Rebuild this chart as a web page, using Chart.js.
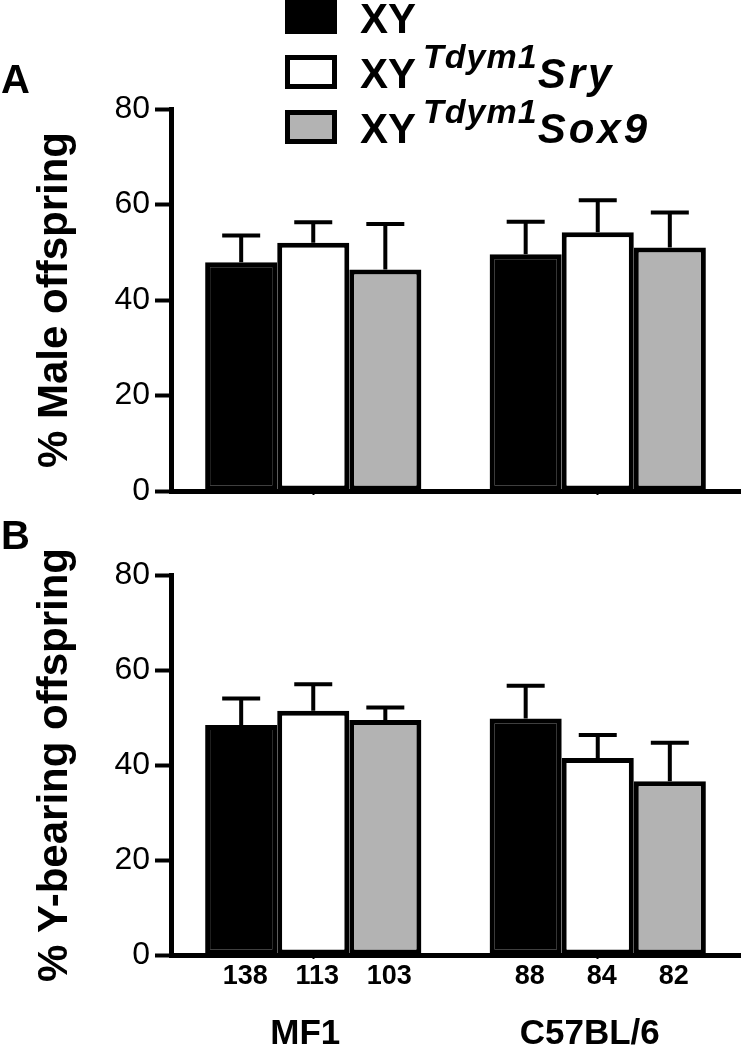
<!DOCTYPE html>
<html>
<head>
<meta charset="utf-8">
<script src="https://cdn.jsdelivr.net/npm/chart.js@4.4.1/dist/chart.umd.min.js"></script>
<style>
body { margin: 0; background: #fff; width: 741px; height: 1049px; position: relative; overflow: hidden; font-family: "Liberation Sans", Arial, sans-serif; color: #000; }
canvas { position: absolute; left: 0; }
#cA { top: 0; }
#cB { top: 520px; }
.panel { position: absolute; left: 1px; font-weight: bold; font-size: 40px; line-height: 40px; }
.sw { position: absolute; left: 285px; width: 52px; height: 34px; box-sizing: border-box; border: 5px solid #000; }
.lab { position: absolute; left: 360px; font-weight: bold; font-size: 42px; line-height: 42px; white-space: nowrap; }
.lab .sup { font-style: italic; font-size: 34px; position: relative; top: -20px; margin-left: 7px; letter-spacing: 1px; }
.lab .it { font-style: italic; letter-spacing: 3px; }
</style>
</head>
<body>
<canvas id="cA" width="741" height="520"></canvas>
<canvas id="cB" width="741" height="529"></canvas>
<div id="legend"></div>
<div class="panel" style="top:59px">A</div>
<div class="panel" style="top:515px">B</div>
<script>
// strains on the x axis
var groups = ['MF1', 'C57BL/6'];

// legend names: base, superscript, italic tail
var seriesBase = ['XY', 'XY', 'XY'];
var seriesSup = ['', 'Tdym1', 'Tdym1'];
var seriesTail = ['', 'Sry', 'Sox9'];
var seriesFill = ['#000000', '#ffffff', '#b3b3b3'];

// A: % male offspring (mean, + SEM)
var maleXY = [47.9, 49.6];
var maleSry = [52.0, 54.2];
var maleSox9 = [46.4, 51.0];
var maleErrXY = [5.6, 6.8];
var maleErrSry = [4.3, 6.7];
var maleErrSox9 = [9.5, 7.3];

// B: % Y-bearing offspring (mean, + SEM)
var ybXY = [48.4, 49.8];
var ybSry = [51.4, 41.5];
var ybSox9 = [49.5, 36.6];
var ybErrXY = [5.6, 6.9];
var ybErrSry = [5.6, 4.8];
var ybErrSox9 = [2.6, 8.1];

// number of offspring under each bar
var nXY = [138, 88];
var nSry = [113, 84];
var nSox9 = [103, 82];

var yMin = 0, yMax = 80, yStep = 20;

var FONT = '"Liberation Sans", Arial, sans-serif';

// legend
var legend = document.getElementById('legend');
for (var i = 0; i < seriesBase.length; i++) {
	var rowTop = i * 55;
	var sw = document.createElement('div');
	sw.className = 'sw';
	sw.style.top = rowTop + 'px';
	sw.style.background = seriesFill[i];
	legend.appendChild(sw);
	var lab = document.createElement('div');
	lab.className = 'lab';
	lab.style.top = (rowTop - 2) + 'px';
	lab.appendChild(document.createTextNode(seriesBase[i]));
	if (seriesSup[i]) {
		var s = document.createElement('span');
		s.className = 'sup';
		s.textContent = seriesSup[i];
		lab.appendChild(s);
	}
	if (seriesTail[i]) {
		var t = document.createElement('span');
		t.className = 'it';
		t.textContent = seriesTail[i];
		lab.appendChild(t);
	}
	legend.appendChild(lab);
}

var errorBars = {
	id: 'errorBars',
	afterDatasetsDraw: function (chart) {
		var ctx = chart.ctx, y = chart.scales.y;
		ctx.save();
		ctx.strokeStyle = '#000';
		ctx.lineWidth = 4;
		chart.data.datasets.forEach(function (ds, i) {
			chart.getDatasetMeta(i).data.forEach(function (bar, j) {
				var yt = y.getPixelForValue(ds.data[j] + ds.errors[j]);
				ctx.beginPath();
				ctx.moveTo(bar.x, bar.y);
				ctx.lineTo(bar.x, yt);
				ctx.moveTo(bar.x - 19, yt);
				ctx.lineTo(bar.x + 19, yt);
				ctx.stroke();
			});
		});
		ctx.restore();
	}
};

var countLabels = {
	id: 'countLabels',
	afterDraw: function (chart) {
		var counts = chart.options.plugins.countLabels.counts;
		if (!counts) return;
		var ctx = chart.ctx;
		ctx.save();
		ctx.fillStyle = '#000';
		ctx.font = 'bold 27px ' + FONT;
		ctx.textAlign = 'center';
		ctx.textBaseline = 'middle';
		chart.data.datasets.forEach(function (ds, i) {
			chart.getDatasetMeta(i).data.forEach(function (bar, j) {
				ctx.fillText(String(counts[i][j]), bar.x + 4, chart.chartArea.bottom + 22);
			});
		});
		ctx.restore();
	}
};

function makePanel(id, title, values, errors, counts, padTop, xHeight) {
	var datasets = [];
	for (var i = 0; i < values.length; i++) {
		datasets.push({
			label: seriesBase[i] + seriesSup[i] + seriesTail[i],
			data: values[i],
			errors: errors[i],
			backgroundColor: seriesFill[i],
			borderColor: '#000',
			borderWidth: 5,
			borderSkipped: false,
			categoryPercentage: 0.76,
			barPercentage: 1.0
		});
	}
	return new Chart(document.getElementById(id), {
		type: 'bar',
		data: { labels: groups, datasets: datasets },
		options: {
			responsive: false,
			animation: false,
			devicePixelRatio: 1,
			layout: { padding: { top: padTop, left: 0, right: 1, bottom: 0 } },
			plugins: {
				legend: { display: false },
				tooltip: { enabled: false },
				countLabels: { counts: counts }
			},
			scales: {
				x: {
					grid: { offset: false, drawOnChartArea: false, color: '#000', tickLength: 4, tickWidth: 2 },
					border: { display: true, color: '#000', width: 5 },
					ticks: {
						display: !!counts,
						color: '#000',
						padding: 54,
						labelOffset: -8,
						font: { family: FONT, size: 35, weight: 'bold' }
					},
					afterFit: function (s) { s.height = xHeight; }
				},
				y: {
					min: yMin,
					max: yMax,
					grid: { drawOnChartArea: false, color: '#000', tickLength: 16, tickWidth: 4 },
					border: { display: true, color: '#000', width: 5 },
					ticks: {
						stepSize: yStep,
						color: '#000',
						padding: 5,
						font: { family: FONT, size: 32 }
					},
					title: {
						display: true,
						text: title,
						color: '#000',
						padding: { top: 30, bottom: 0 },
						font: { family: FONT, size: 42, weight: 'bold' }
					},
					afterFit: function (s) { s.width = 171; }
				}
			}
		},
		plugins: [errorBars, countLabels]
	});
}

makePanel('cA', '% Male offspring',
	[maleXY, maleSry, maleSox9],
	[maleErrXY, maleErrSry, maleErrSox9],
	null, 109, 29);

makePanel('cB', '% Y-bearing offspring',
	[ybXY, ybSry, ybSox9],
	[ybErrXY, ybErrSry, ybErrSox9],
	[nXY, nSry, nSox9], 55, 94);
</script>
</body>
</html>
